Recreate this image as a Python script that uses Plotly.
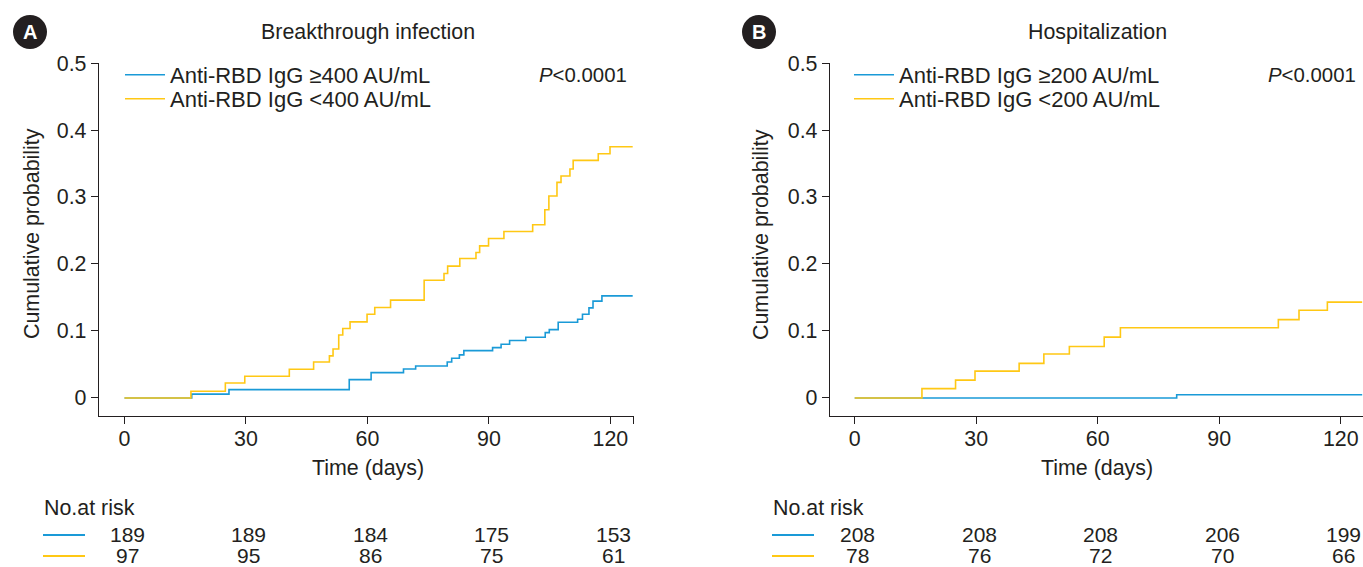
import plotly.graph_objects as go

# ---------------- data ----------------
# Panel A: Breakthrough infection
a_hi_days = [0, 16.6, 25.8, 55.5, 60.9, 68.9, 71.9, 79.7, 80.8, 82.7, 83.8, 90.9, 93.0, 95.1,
             99.1, 103.9, 104.9, 107.1, 111.9, 113.1, 114.7, 115.7, 117.9, 125.5]
a_hi_prob = [0, 0.0058, 0.0125, 0.0274, 0.0379, 0.0433, 0.0478, 0.0538, 0.0593, 0.0643, 0.0707,
             0.0752, 0.0802, 0.0857, 0.0907, 0.0976, 0.1021, 0.1131, 0.1176, 0.1250, 0.1345,
             0.1445, 0.1524, 0.1524]
a_lo_days = [0, 16.4, 24.9, 29.7, 40.7, 46.7, 50.6, 51.5, 52.9, 53.9, 55.7, 59.9, 61.8, 65.7,
             74.0, 78.9, 79.8, 82.8, 86.8, 87.7, 89.9, 93.7, 100.8, 103.8, 104.8, 106.8, 107.8,
             110.0, 110.8, 117.0, 119.9, 125.5]
a_lo_prob = [0, 0.0100, 0.0224, 0.0324, 0.0428, 0.0538, 0.0628, 0.0732, 0.0941, 0.1036, 0.1136,
             0.1250, 0.1350, 0.1460, 0.1758, 0.1858, 0.1968, 0.2082, 0.2172, 0.2271, 0.2381,
             0.2486, 0.2586, 0.2810, 0.3014, 0.3218, 0.3313, 0.3417, 0.3547, 0.3646, 0.3751,
             0.3751]

# Panel B: Hospitalization
b_hi_days = [0, 79.5, 125.3]
b_hi_prob = [0, 0.0048, 0.0048]
b_lo_days = [0, 16.6, 24.9, 29.7, 40.6, 46.7, 53.0, 61.6, 65.6, 104.6, 109.7, 116.7, 125.3]
b_lo_prob = [0, 0.0140, 0.0266, 0.0401, 0.0517, 0.0657, 0.0768, 0.0908, 0.1049, 0.1169,
             0.1310, 0.1430, 0.1430]

risk_days = [0, 30, 60, 90, 120]
a_hi_risk = [189, 189, 184, 175, 153]
a_lo_risk = [97, 95, 86, 75, 61]
b_hi_risk = [208, 208, 208, 206, 199]
b_lo_risk = [78, 76, 72, 70, 66]

y_ticks = [0, 0.1, 0.2, 0.3, 0.4, 0.5]
y_tick_text = ["0", "0.1", "0.2", "0.3", "0.4", "0.5"]
x_ticks = [0, 30, 60, 90, 120]

a_names = ["Anti-RBD IgG \u2265400 AU/mL", "Anti-RBD IgG &lt;400 AU/mL"]
b_names = ["Anti-RBD IgG \u2265200 AU/mL", "Anti-RBD IgG &lt;200 AU/mL"]
titles = ["Breakthrough infection", "Hospitalization"]

# ---------------- style ----------------
W, H = 1363, 567
BLUE = "#1A9AD7"
YELLOW = "#FFC814"
INK = "#231F20"
FONT = "Liberation Sans, Arial, sans-serif"
FS = 21.4

def px(xp):
    return xp / W

def py(yp):
    return (H - yp) / H

fig = go.Figure()

panels = [
    dict(xa="x", ya="y", hi=(a_hi_days, a_hi_prob), lo=(a_lo_days, a_lo_prob), names=a_names,
         legends=("legend", "legend2"), xoff=0),
    dict(xa="x2", ya="y2", hi=(b_hi_days, b_hi_prob), lo=(b_lo_days, b_lo_prob), names=b_names,
         legends=("legend3", "legend4"), xoff=729),
]
legend_common = dict(font=dict(family=FONT, size=22, color=INK), bgcolor="rgba(0,0,0,0)",
                     xanchor="left", yanchor="middle", itemwidth=40, borderwidth=0,
                     visible=True)
legend_layout = {}
for p in panels:
    fig.add_trace(go.Scatter(x=p["hi"][0], y=p["hi"][1], mode="lines", name=p["names"][0],
                             line=dict(color=BLUE, width=1.6, shape="hv"), showlegend=True,
                             xaxis=p["xa"], yaxis=p["ya"], legend=p["legends"][0]))
    fig.add_trace(go.Scatter(x=p["lo"][0], y=p["lo"][1], mode="lines", name=p["names"][1],
                             line=dict(color=YELLOW, width=1.6, shape="hv"), showlegend=True,
                             xaxis=p["xa"], yaxis=p["ya"], legend=p["legends"][1]))
    legend_layout[p["legends"][0]] = dict(x=px(120 + p["xoff"]), y=py(75), **legend_common)
    legend_layout[p["legends"][1]] = dict(x=px(120 + p["xoff"]), y=py(99), **legend_common)
fig.update_layout(showlegend=True, **legend_layout)

axis_common = dict(showline=True, linecolor=INK, linewidth=1.4, ticks="outside", ticklen=7,
                   tickwidth=1.3, tickcolor=INK, showgrid=False, zeroline=False,
                   automargin=False,
                   tickfont=dict(family=FONT, size=FS, color=INK))

ydom = [py(416), py(63)]
yrange = [-0.0269, 0.5]
fig.update_layout(
    template="none",
    xaxis=dict(domain=[px(99), px(633.5)], range=[-6.3, 125.7], anchor="y",
               tickvals=x_ticks + [125.7], ticktext=[str(v) for v in x_ticks] + [""],
               ticklabelstandoff=-4, **axis_common),
    yaxis=dict(domain=ydom, range=yrange, anchor="x", tickvals=y_ticks, ticktext=y_tick_text,
               **axis_common),
    xaxis2=dict(domain=[px(830), 1.0], range=[-6.1, 125.5], anchor="y2",
                tickvals=x_ticks, ticktext=[str(v) for v in x_ticks],
                ticklabelstandoff=-4, **axis_common),
    yaxis2=dict(domain=ydom, range=yrange, anchor="x2", tickvals=y_ticks, ticktext=y_tick_text,
                **axis_common),
)

annotations = []
shapes = []
for i, (letter, title, xoff, xa) in enumerate([("A", titles[0], 0, "x"), ("B", titles[1], 729, "x2")]):
    # panel badge
    shapes.append(dict(type="circle", xref="paper", yref="paper",
                       x0=px(13 + xoff), x1=px(47 + xoff), y0=py(49), y1=py(15),
                       fillcolor=INK, line=dict(color=INK, width=0)))
    annotations.append(dict(text="<b>%s</b>" % letter, x=px(30 + xoff), y=py(32), xref="paper",
                            yref="paper", showarrow=False, xanchor="center", yanchor="middle",
                            font=dict(family=FONT, size=20, color="white")))
    # title
    annotations.append(dict(text=title, x=px(368 + xoff), y=py(32), xref="paper", yref="paper",
                            showarrow=False, xanchor="center", yanchor="middle",
                            font=dict(family=FONT, size=FS, color=INK)))
    # P value
    annotations.append(dict(text="<i>P</i>&lt;0.0001", x=px(629 + xoff), y=py(75), xref="paper",
                            yref="paper", showarrow=False, xanchor="right", yanchor="middle",
                            font=dict(family=FONT, size=FS - 1, color=INK)))
    # axis titles
    annotations.append(dict(text="Time (days)", x=px(368 + xoff), y=py(468), xref="paper",
                            yref="paper", showarrow=False, xanchor="center", yanchor="middle",
                            font=dict(family=FONT, size=FS, color=INK)))
    annotations.append(dict(text="Cumulative probability", x=px(32 + xoff), y=py(234),
                            xref="paper", yref="paper", showarrow=False, textangle=-90,
                            xanchor="center", yanchor="middle",
                            font=dict(family=FONT, size=FS, color=INK)))
    # number at risk table
    annotations.append(dict(text="No.at risk", x=px(42 + xoff), y=py(508), xref="paper",
                            yref="paper", showarrow=False, xanchor="left", yanchor="middle",
                            font=dict(family=FONT, size=FS, color=INK)))
    rows = [(a_hi_risk, a_lo_risk), (b_hi_risk, b_lo_risk)][i]
    for row_vals, ypix, col in [(rows[0], 534, BLUE), (rows[1], 555, YELLOW)]:
        shapes.append(dict(type="line", xref="paper", yref="paper",
                           x0=px(43 + xoff), x1=px(85 + xoff), y0=py(ypix + 1), y1=py(ypix + 1),
                           line=dict(color=col, width=1.8)))
        for d, v in zip(risk_days, row_vals):
            annotations.append(dict(text=str(v), x=d, y=py(ypix), xref=xa, yref="paper",
                                    showarrow=False, xanchor="center", yanchor="middle",
                                    xshift=3, font=dict(family=FONT, size=21, color=INK)))

fig.update_layout(annotations=annotations, shapes=shapes, width=W, height=H,
                  margin=dict(l=0, r=0, t=0, b=0, pad=0), paper_bgcolor="white",
                  plot_bgcolor="white",
                  font=dict(family=FONT, size=FS, color=INK))

fig.write_html("out.html", config={"displayModeBar": False},
               post_script="document.body.style.margin='0';document.body.style.overflow='hidden';")
